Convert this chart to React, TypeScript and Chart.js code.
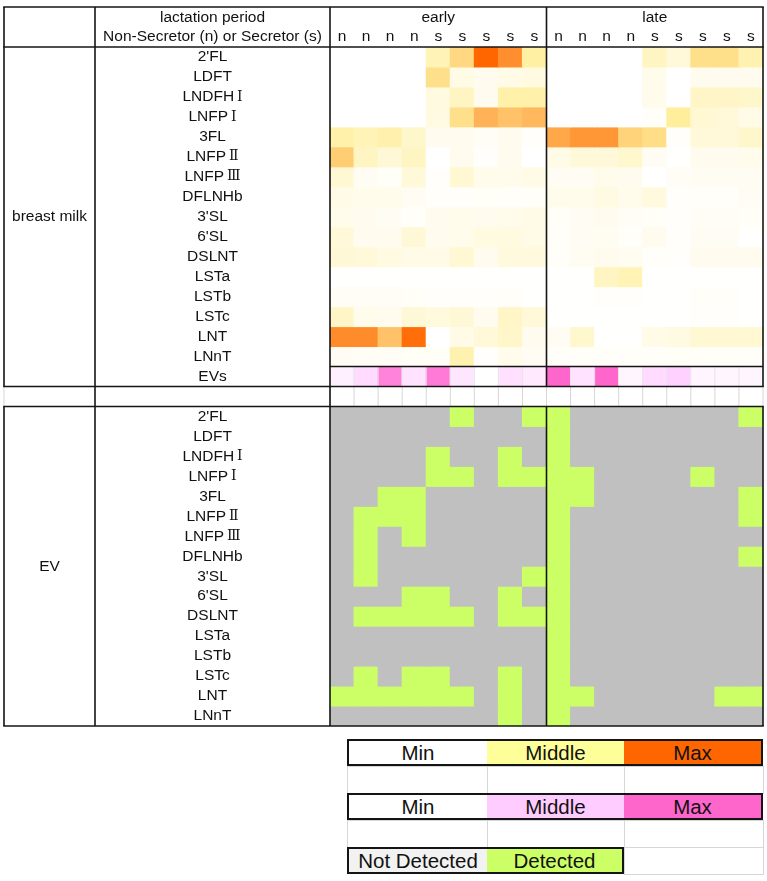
import React, { useEffect, useRef } from 'react';
import { Chart, registerables } from 'chart.js';

Chart.register(...registerables);

// Sample columns: lactation period blocks and secretor status of each donor
const PERIODS = ['early', 'late'];
const STATUS = ['n', 'n', 'n', 'n', 's', 's', 's', 's', 's', 'n', 'n', 'n', 'n', 's', 's', 's', 's', 's'];
const SECTIONS = ['breast milk', 'EV'];

const OLIGOSACCHARIDES = [
  "2'FL", 'LDFT', 'LNDFHⅠ', 'LNFPⅠ', '3FL', 'LNFPⅡ', 'LNFPⅢ', 'DFLNHb',
  "3'SL", "6'SL", 'DSLNT', 'LSTa', 'LSTb', 'LSTc', 'LNT', 'LNnT',
];

// Relative level in breast milk: 0 = min, 50 = middle, 100 = max (early 9 | late 9)
const MILK_LEVELS = [
  [0, 0, 0, 0, 35, 58, 100, 85, 45, 0, 0, 0, 0, 30, 18, 55, 55, 38],
  [0, 0, 0, 0, 55, 12, 8, 12, 15, 0, 0, 0, 0, 10, 0, 8, 8, 8],
  [0, 0, 0, 0, 15, 30, 8, 42, 42, 0, 0, 0, 0, 10, 0, 28, 28, 25],
  [0, 0, 0, 0, 15, 55, 72, 66, 70, 0, 0, 0, 0, 3, 48, 22, 18, 12],
  [42, 35, 40, 25, 8, 8, 5, 8, 2, 76, 82, 82, 60, 56, 2, 18, 18, 25],
  [62, 30, 20, 30, 0, 8, 2, 8, 0, 12, 18, 18, 24, 6, 1, 8, 8, 10],
  [22, 6, 4, 18, 2, 22, 10, 10, 12, 6, 6, 10, 8, 0, 5, 6, 6, 6],
  [12, 10, 10, 6, 2, 2, 4, 3, 3, 10, 10, 14, 10, 16, 2, 3, 3, 6],
  [10, 8, 6, 3, 8, 10, 8, 10, 12, 4, 6, 8, 5, 4, 2, 5, 5, 4],
  [18, 8, 8, 20, 8, 10, 15, 15, 12, 3, 6, 7, 3, 8, 2, 6, 6, 1],
  [20, 18, 14, 12, 12, 22, 8, 16, 16, 3, 7, 8, 7, 3, 2, 8, 8, 8],
  [1, 1, 1, 1, 1, 1, 1, 1, 1, 1, 1, 30, 36, 1, 1, 1, 1, 1],
  [5, 5, 5, 4, 2, 2, 2, 3, 1, 1, 1, 2, 2, 1, 1, 3, 3, 1],
  [28, 10, 8, 20, 16, 20, 8, 28, 18, 1, 1, 1, 1, 1, 1, 2, 2, 1],
  [86, 86, 66, 97, 0, 12, 18, 26, 8, 6, 24, 1, 1, 12, 14, 22, 22, 22],
  [6, 5, 5, 4, 4, 38, 2, 10, 6, 3, 3, 3, 3, 3, 4, 4, 4, 3],
];

// Extracellular vesicle amount in breast milk (same 0-100 scale)
const EV_AMOUNT = [15, 35, 86, 28, 90, 25, 0, 30, 22, 100, 28, 100, 10, 35, 45, 10, 10, 10];

// Oligosaccharide found inside EVs: 1 = detected, 0 = not detected
const EV_DETECTED = [
  [0, 0, 0, 0, 0, 1, 0, 0, 1, 1, 0, 0, 0, 0, 0, 0, 0, 1],
  [0, 0, 0, 0, 0, 0, 0, 0, 0, 1, 0, 0, 0, 0, 0, 0, 0, 0],
  [0, 0, 0, 0, 1, 0, 0, 1, 0, 1, 0, 0, 0, 0, 0, 0, 0, 0],
  [0, 0, 0, 0, 1, 1, 0, 1, 1, 1, 1, 0, 0, 0, 0, 1, 0, 0],
  [0, 0, 1, 1, 0, 0, 0, 0, 0, 1, 1, 0, 0, 0, 0, 0, 0, 1],
  [0, 1, 1, 1, 0, 0, 0, 0, 0, 1, 0, 0, 0, 0, 0, 0, 0, 1],
  [0, 1, 0, 1, 0, 0, 0, 0, 0, 1, 0, 0, 0, 0, 0, 0, 0, 0],
  [0, 1, 0, 0, 0, 0, 0, 0, 0, 1, 0, 0, 0, 0, 0, 0, 0, 1],
  [0, 1, 0, 0, 0, 0, 0, 0, 1, 1, 0, 0, 0, 0, 0, 0, 0, 0],
  [0, 0, 0, 1, 1, 0, 0, 1, 0, 1, 0, 0, 0, 0, 0, 0, 0, 0],
  [0, 1, 1, 1, 1, 1, 0, 1, 1, 1, 0, 0, 0, 0, 0, 0, 0, 0],
  [0, 0, 0, 0, 0, 0, 0, 0, 0, 1, 0, 0, 0, 0, 0, 0, 0, 0],
  [0, 0, 0, 0, 0, 0, 0, 0, 0, 1, 0, 0, 0, 0, 0, 0, 0, 0],
  [0, 1, 0, 1, 1, 0, 0, 1, 0, 1, 0, 0, 0, 0, 0, 0, 0, 0],
  [1, 1, 1, 1, 1, 1, 0, 1, 0, 1, 1, 0, 0, 0, 0, 0, 1, 1],
  [0, 0, 0, 0, 0, 0, 0, 1, 0, 1, 0, 0, 0, 0, 0, 0, 0, 0],
];

// Colour keys
const KEY_LEVELS = ['Min', 'Middle', 'Max'];
const KEY_DETECTION = ['Not Detected', 'Detected'];
const HEAT_YELLOW = ['#FFFFFF', '#FFEE99', '#FF6600'];
const KEY_YELLOW = ['#FFFFFF', '#FFFF99', '#FF6600'];
const HEAT_PINK = ['#FFFFFF', '#FFCCFF', '#FF66CC'];
const DETECTED = '#CCFF66';
const NOT_DETECTED = '#C0C0C0';
const KEY_DETECTION_COLORS = ['#F2F2F2', DETECTED];

// Row layout: 16 milk rows, EVs row, blank spacer, 16 EV rows
const EVS_ROW = OLIGOSACCHARIDES.length;
const SPACER_ROW = EVS_ROW + 1;
const EV_FIRST_ROW = SPACER_ROW + 1;
const TOTAL_ROWS = EV_FIRST_ROW + OLIGOSACCHARIDES.length;

const FONT = '"Liberation Sans", Arial, sans-serif';
const NUMERAL_FONT = '"DejaVu Serif", "Liberation Serif", serif';
const TEXT_PX = 15.5;
const NUMERAL_PX = 14;
const NUMERAL_GAP = 3;
const INK = '#111111';
const RULE = '#141414';
const HAIR = '#d6d6d6';
const TABLE_LEFT = 4;
const LABEL_SPLIT = 95;

function rgb(h: string): number[] {
  const n = parseInt(h.slice(1), 16);
  return [(n >> 16) & 255, (n >> 8) & 255, n & 255];
}

function mix(stops: string[], level: number): string {
  const v = Math.max(0, Math.min(100, level));
  const seg = v <= 50 ? 0 : 1;
  const t = seg === 0 ? v / 50 : (v - 50) / 50;
  const a = rgb(stops[seg]);
  const b = rgb(stops[seg + 1]);
  const c = a.map((ch, i) => Math.round(ch + (b[i] - ch) * t));
  return `rgb(${c[0]},${c[1]},${c[2]})`;
}

const rowSpan = (r: number) => STATUS.map(() => [r, r + 1]);

const isNumeral = (run: string) => /[\u2160-\u217F]/.test(run);

// Draw a label centred at (cx, cy); Roman numerals are set in a serif face
function drawLabel(ctx: CanvasRenderingContext2D, text: string, cx: number, cy: number) {
  const runs = text.match(/[\u2160-\u217F]+|[^\u2160-\u217F]+/g) || [];
  const fontFor = (run: string) => (isNumeral(run) ? `${NUMERAL_PX}px ${NUMERAL_FONT}` : `${TEXT_PX}px ${FONT}`);
  const widths = runs.map((run, i) => {
    ctx.font = fontFor(run);
    return ctx.measureText(run).width + (isNumeral(run) && i > 0 ? NUMERAL_GAP : 0);
  });
  let x = cx - widths.reduce((s, w) => s + w, 0) / 2;
  ctx.textAlign = 'left';
  runs.forEach((run, i) => {
    ctx.font = fontFor(run);
    ctx.fillText(run, x + (isNumeral(run) && i > 0 ? NUMERAL_GAP : 0), cy);
    x += widths[i];
  });
  ctx.textAlign = 'center';
  ctx.font = `${TEXT_PX}px ${FONT}`;
}

const tableFrame = {
  id: 'tableFrame',
  afterDatasetsDraw(chart: any) {
    const { ctx, chartArea: a } = chart;
    const xs = chart.scales.x;
    const ys = chart.scales.y;
    const n = STATUS.length;
    const colW = (a.right - a.left) / n;
    const rowY = (r: number) => ys.getPixelForValue(r);
    const rowH = rowY(1) - rowY(0);
    const top = a.top - 2 * rowH;
    const edge = (c: number) => a.left + c * colW;
    const half = edge(n / 2);
    const yEvs = rowY(EVS_ROW);
    const ySpA = rowY(SPACER_ROW);
    const ySpB = rowY(SPACER_ROW + 1);
    const yBot = rowY(TOTAL_ROWS);

    ctx.save();
    const seg = (x1: number, y1: number, x2: number, y2: number, color: string, w: number) => {
      ctx.beginPath();
      ctx.strokeStyle = color;
      ctx.lineWidth = w;
      ctx.moveTo(x1, y1);
      ctx.lineTo(x2, y2);
      ctx.stroke();
    };

    // faint cell grid in the EVs row and the blank spacer row
    for (let c = 1; c < n; c++) seg(edge(c), yEvs, edge(c), ySpA, '#e6e6e6', 1);
    for (let c = 0; c <= n; c++) seg(edge(c), ySpA, edge(c), ySpB, HAIR, 1);
    seg(TABLE_LEFT, ySpA, TABLE_LEFT, ySpB, HAIR, 1);

    // table frame
    const W = 1.6;
    [top, a.top, ySpA, ySpB, yBot].forEach((yy) => seg(TABLE_LEFT - 0.8, yy, a.right + 0.8, yy, RULE, W));
    seg(a.left, yEvs, a.right, yEvs, RULE, W);
    [TABLE_LEFT, half, a.right].forEach((xx) => {
      seg(xx, top, xx, ySpA, RULE, W);
      seg(xx, ySpB, xx, yBot, RULE, W);
    });
    [LABEL_SPLIT, a.left].forEach((xx) => seg(xx, top, xx, yBot, RULE, W));

    // texts
    ctx.fillStyle = INK;
    ctx.textAlign = 'center';
    ctx.textBaseline = 'middle';
    ctx.font = `${TEXT_PX}px ${FONT}`;
    const nameX = (LABEL_SPLIT + a.left) / 2;
    const sectionX = (TABLE_LEFT + LABEL_SPLIT) / 2;
    ctx.fillText('lactation period', nameX, top + rowH / 2 + 0.5);
    ctx.fillText('Non-Secretor (n) or Secretor (s)', nameX, a.top - rowH / 2);
    PERIODS.forEach((p, i) => ctx.fillText(p, (edge((i * n) / 2) + edge(((i + 1) * n) / 2)) / 2, top + rowH / 2 + 0.5));
    STATUS.forEach((s, c) => ctx.fillText(s, xs.getPixelForValue(c), a.top - rowH / 2));
    OLIGOSACCHARIDES.forEach((name, r) => {
      drawLabel(ctx, name, nameX, rowY(r + 0.5));
      drawLabel(ctx, name, nameX, rowY(EV_FIRST_ROW + r + 0.5));
    });
    ctx.fillText('EVs', nameX, rowY(EVS_ROW + 0.5));
    ctx.fillText(SECTIONS[0], sectionX, (a.top + ySpA) / 2);
    ctx.fillText(SECTIONS[1], sectionX, (ySpB + yBot) / 2);
    ctx.restore();
  },
};

const KEY_LEFT = 347;
const KEY_TOP = 739;
const KEY_ROW_H = 27;
const KEY_EDGES = [0, 140, 277, 416];

function ColourKey() {
  const rows: ({ label: string; color: string }[] | null)[] = [
    KEY_LEVELS.map((label, i) => ({ label, color: KEY_YELLOW[i] })),
    null,
    KEY_LEVELS.map((label, i) => ({ label, color: HEAT_PINK[i] })),
    null,
    KEY_DETECTION.map((label, i) => ({ label, color: KEY_DETECTION_COLORS[i] })),
  ];
  return (
    <div
      style={{
        position: 'absolute',
        left: KEY_LEFT,
        top: KEY_TOP,
        width: KEY_EDGES[3] + 1,
        height: rows.length * KEY_ROW_H + 1,
        fontFamily: FONT,
        fontSize: 20.5,
        color: INK,
      }}
    >
      {rows.map((row, r) => {
        const top = r * KEY_ROW_H;
        const filled = row ? row.length : 0;
        return (
          <React.Fragment key={r}>
            {[0, 1, 2]
              .filter((c) => c >= filled)
              .map((c) => (
                <div
                  key={'g' + c}
                  style={{
                    position: 'absolute',
                    left: KEY_EDGES[c],
                    top,
                    width: KEY_EDGES[c + 1] - KEY_EDGES[c] + 1,
                    height: KEY_ROW_H + 1,
                    boxSizing: 'border-box',
                    border: `1px solid ${HAIR}`,
                  }}
                />
              ))}
            {row && (
              <div
                style={{
                  position: 'absolute',
                  left: 0,
                  top,
                  width: KEY_EDGES[filled],
                  height: KEY_ROW_H,
                  boxSizing: 'border-box',
                  border: `2px solid ${RULE}`,
                  display: 'flex',
                }}
              >
                {row.map((s, c) => (
                  <div
                    key={c}
                    style={{
                      width: KEY_EDGES[c + 1] - KEY_EDGES[c] - (c === 0 ? 2 : 0) - (c === filled - 1 ? 2 : 0),
                      background: s.color,
                      display: 'flex',
                      alignItems: 'center',
                      justifyContent: 'center',
                      whiteSpace: 'nowrap',
                    }}
                  >
                    {s.label}
                  </div>
                ))}
              </div>
            )}
          </React.Fragment>
        );
      })}
    </div>
  );
}

export default function App() {
  const ref = useRef<HTMLCanvasElement>(null);

  useEffect(() => {
    const datasets: any[] = [
      ...MILK_LEVELS.map((levels, i) => ({
        label: OLIGOSACCHARIDES[i],
        data: rowSpan(i),
        backgroundColor: levels.map((v) => mix(HEAT_YELLOW, v)),
      })),
      {
        label: 'EVs',
        data: rowSpan(EVS_ROW),
        backgroundColor: EV_AMOUNT.map((v) => mix(HEAT_PINK, v)),
      },
      ...EV_DETECTED.map((flags, i) => ({
        label: 'EV ' + OLIGOSACCHARIDES[i],
        data: rowSpan(EV_FIRST_ROW + i),
        backgroundColor: flags.map((f) => (f ? DETECTED : NOT_DETECTED)),
      })),
    ];

    const chart = new Chart(ref.current!, {
      type: 'bar',
      data: { labels: STATUS, datasets },
      options: {
        animation: false,
        responsive: false,
        events: [],
        layout: { padding: { left: 330, right: 4, top: 47, bottom: 4 } },
        datasets: {
          bar: {
            grouped: false,
            barPercentage: 1,
            categoryPercentage: 1,
            borderWidth: 0,
            inflateAmount: 0.5,
          },
        },
        scales: {
          x: { type: 'category', display: false, offset: true },
          y: { type: 'linear', display: false, reverse: true, min: 0, max: TOTAL_ROWS },
        },
        plugins: { legend: { display: false }, tooltip: { enabled: false } },
      } as any,
      plugins: [tableFrame],
    });
    return () => chart.destroy();
  }, []);

  return (
    <div style={{ position: 'absolute', left: 0, top: 0, width: 767, height: 881, background: '#fff' }}>
      <canvas ref={ref} width={767} height={730} style={{ display: 'block' }} />
      <ColourKey />
    </div>
  );
}
